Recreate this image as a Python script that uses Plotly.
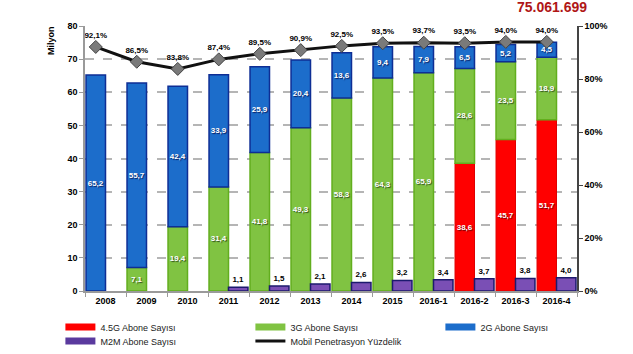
import plotly.graph_objects as go

categories = ["2008", "2009", "2010", "2011", "2012", "2013", "2014", "2015",
              "2016-1", "2016-2", "2016-3", "2016-4"]
g45 = [0, 0, 0, 0, 0, 0, 0, 0, 0, 38.6, 45.7, 51.7]
g3 = [0, 7.1, 19.4, 31.4, 41.8, 49.3, 58.3, 64.3, 65.9, 28.6, 23.5, 18.9]
g2 = [65.2, 55.7, 42.4, 33.9, 25.9, 20.4, 13.6, 9.4, 7.9, 6.5, 5.2, 4.5]
m2m = [0, 0, 0, 1.1, 1.5, 2.1, 2.6, 3.2, 3.4, 3.7, 3.8, 4.0]
penetration = [92.1, 86.5, 83.8, 87.4, 89.5, 90.9, 92.5, 93.5, 93.7, 93.5, 94.0, 94.0]
total_label = "75.061.699"
y_ticks = [0, 10, 20, 30, 40, 50, 60, 70, 80]
y2_ticks = [0, 20, 40, 60, 80, 100]


def fmt(v):
    return f"{v:.1f}".replace(".", ",") if v else ""


def nz(vals):
    return [v if v else None for v in vals]


base3 = g45[:]
base2 = [a + b for a, b in zip(g45, g3)]

FONT = "Liberation Sans"
BARGAP = 0.05
shift = (1 - BARGAP) / 4

fig = go.Figure()

common = dict(offsetgroup="A", textposition="inside", insidetextanchor="middle",
              textangle=0, constraintext="none", showlegend=False, hoverinfo="skip")

fig.add_trace(go.Bar(x=categories, y=nz(g45), text=[fmt(v) for v in g45],
                     marker=dict(color="#FF0000", line=dict(color="#E00000", width=1)),
                     textfont=dict(family=FONT, size=8, color="white", weight="bold",
                                   shadow="1px 1px 1px #700000"),
                     **common))
fig.add_trace(go.Bar(x=categories, y=nz(g3), base=base3, text=[fmt(v) for v in g3],
                     marker=dict(color="#80C342", line=dict(color="#62AE1E", width=1.5)),
                     textfont=dict(family=FONT, size=8, color="white", weight="bold",
                                   shadow="1px 1px 1px #2f4f1a"),
                     **common))
fig.add_trace(go.Bar(x=categories, y=nz(g2), base=base2, text=[fmt(v) for v in g2],
                     marker=dict(color="#1C6DCB", line=dict(color="#0E2E95", width=1.5)),
                     textfont=dict(family=FONT, size=8, color="white", weight="bold",
                                   shadow="1px 1px 1px #0a1f60"),
                     **common))
fig.add_trace(go.Bar(x=categories, y=nz(m2m), text=[fmt(v) for v in m2m],
                     offsetgroup="B", textposition="outside", textangle=0,
                     constraintext="none", cliponaxis=False,
                     marker=dict(color="#7A4FB5", line=dict(color="#1C1A6E", width=1.5)),
                     textfont=dict(family=FONT, size=8, color="black", weight="bold"),
                     showlegend=False, hoverinfo="skip"))

fig.add_trace(go.Scatter(x=categories, y=penetration, xaxis="x2", yaxis="y2",
                         mode="lines+markers+text",
                         text=[f"{v:.1f}%".replace(".", ",") for v in penetration],
                         textposition="top center", cliponaxis=False,
                         textfont=dict(family=FONT, size=8, color="black", weight="bold"),
                         line=dict(color="#111111", width=3),
                         marker=dict(symbol="diamond", size=10, color="#7a7a7a",
                                     line=dict(color="#444444", width=1)),
                         showlegend=False, hoverinfo="skip"))

# legend entries (two rows -> two legends)
legend_items = [("4.5G Abone Sayısı", "#FF0000", "legend"),
                ("3G Abone Sayısı", "#80C342", "legend"),
                ("2G Abone Sayısı", "#1C6DCB", "legend"),
                ("M2M Abone Sayısı", "#5A3A9E", "legend2"),
                ("Mobil Penetrasyon Yüzdelik", "#111111", "legend2")]
for name, col, lg in legend_items:
    w = 3 if name.startswith("Mobil") else 7
    fig.add_trace(go.Scatter(x=[None], y=[None], mode="lines", name=name, legend=lg,
                             line=dict(color=col, width=w), hoverinfo="skip"))

legend_common = dict(orientation="h", x=-0.05, xanchor="left", yanchor="middle",
                     entrywidth=145, itemwidth=30, tracegroupgap=0,
                     font=dict(family=FONT, size=9, color="#222222"),
                     bgcolor="rgba(0,0,0,0)")

fig.update_layout(
    width=633, height=354,
    margin=dict(l=85, r=56, t=26, b=63, autoexpand=False),
    paper_bgcolor="white", plot_bgcolor="white",
    barmode="group", bargap=BARGAP, bargroupgap=0,
    font=dict(family=FONT, size=9, color="black"),
    showlegend=True,
    legend=dict(y=-(327 - 291) / 265, **legend_common),
    legend2=dict(y=-(341 - 291) / 265, **legend_common),
    xaxis=dict(type="category", range=[-0.5, 11.5], showgrid=False,
               showline=True, linecolor="#9a9a9a", linewidth=1.5,
               ticks="outside", tickson="boundaries", ticklen=4, tickcolor="#9a9a9a",
               tickfont=dict(family=FONT, size=9, color="black", weight="bold")),
    xaxis2=dict(type="category", overlaying="x", visible=False,
                range=[-0.5 + shift, 11.5 + shift]),
    yaxis=dict(range=[0, 80], tickvals=y_ticks, showgrid=True, gridcolor="#b5b5b5",
               griddash="dash", gridwidth=1.5, zeroline=False,
               showline=True, linecolor="#9a9a9a", linewidth=1.5,
               ticks="outside", ticklen=4, tickcolor="#9a9a9a",
               tickfont=dict(family=FONT, size=9, color="black", weight="bold")),
    yaxis2=dict(range=[0, 100], tickvals=y2_ticks, ticktext=[f"{v}%" for v in y2_ticks],
                overlaying="y", side="right", anchor="x", showgrid=False, zeroline=False,
                showline=True, linecolor="#444444", linewidth=1.5,
                ticks="outside", ticklen=4, tickcolor="#444444",
                tickfont=dict(family=FONT, size=9, color="black", weight="bold")),
    annotations=[
        dict(text=total_label, xref="paper", yref="paper",
             x=(552 - 85) / 492, xanchor="center", y=1.0,
             yanchor="bottom", yshift=9, showarrow=False,
             font=dict(family=FONT, size=14, color="#B01616", weight="bold")),
        dict(text="Milyon", xref="paper", yref="paper", x=0, xshift=-34,
             xanchor="center", y=1.0, yshift=-15, yanchor="middle", textangle=-90,
             showarrow=False,
             font=dict(family=FONT, size=9, color="black", weight="bold")),
    ],
)

fig.write_html("out.html")
